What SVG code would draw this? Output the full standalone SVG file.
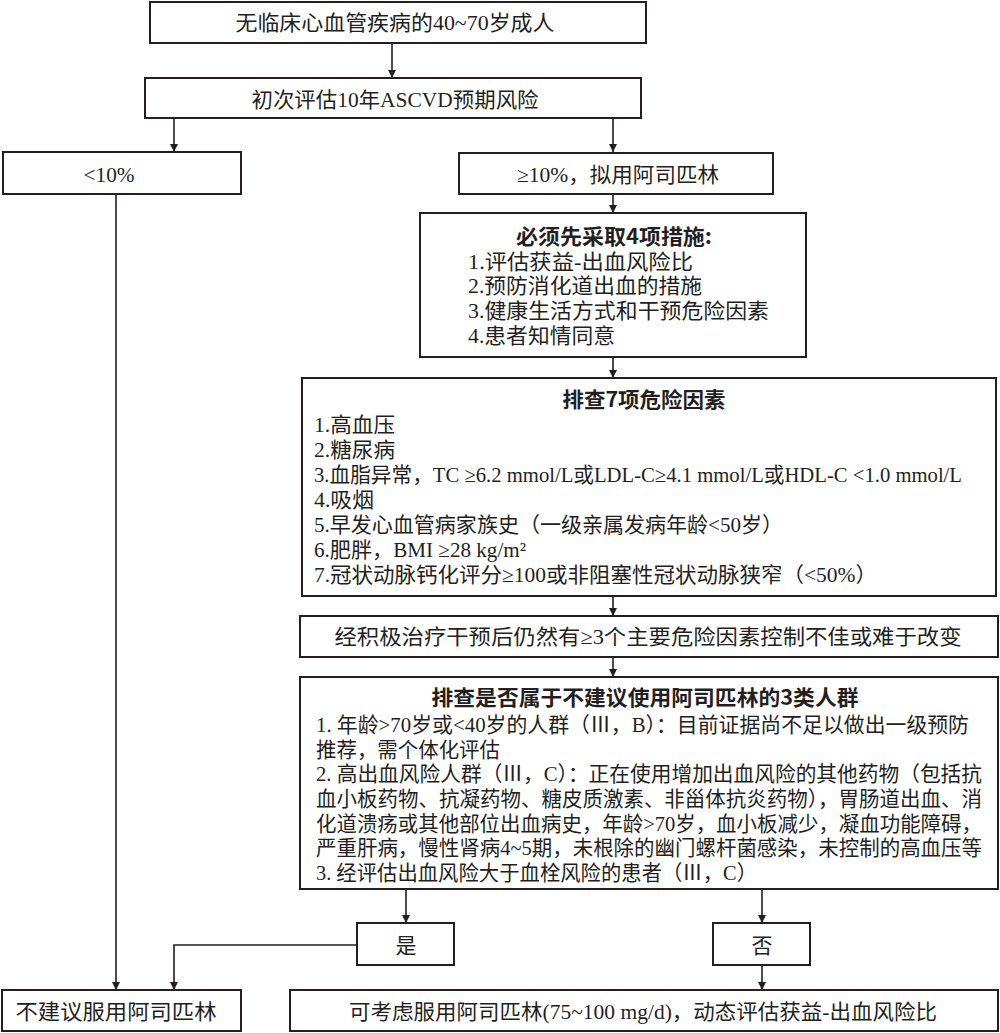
<svg xmlns="http://www.w3.org/2000/svg" width="1000" height="1033" viewBox="0 0 1000 1033">
<defs>
<style>
.box{fill:#fff;stroke:#231f20;stroke-width:2}
.t{font-family:'Liberation Serif','Noto Sans CJK SC',serif;font-size:21px;fill:#231f20}
.c{text-anchor:middle}
.b{font-family:'Noto Sans CJK SC','Liberation Sans',sans-serif;font-weight:bold;font-size:21px;fill:#231f20;text-anchor:middle}
.ln{fill:none;stroke:#231f20;stroke-width:1.6}
</style>
<marker id="ah" viewBox="0 0 10 10" refX="10" refY="5" markerWidth="8" markerHeight="8" markerUnits="userSpaceOnUse" orient="auto">
<path d="M0,0 L10,5 L0,10 z" fill="#231f20"/>
</marker>
</defs>
<rect width="1000" height="1033" fill="#fff"/>

<g id="connectors">
<line class="ln" x1="392" y1="43" x2="392" y2="78" marker-end="url(#ah)"/>
<line class="ln" x1="174" y1="118" x2="174" y2="152" marker-end="url(#ah)"/>
<line class="ln" x1="613" y1="118" x2="613" y2="152" marker-end="url(#ah)"/>
<line class="ln" x1="613" y1="194" x2="613" y2="213" marker-end="url(#ah)"/>
<line class="ln" x1="613" y1="357" x2="613" y2="378" marker-end="url(#ah)"/>
<line class="ln" x1="613" y1="597" x2="613" y2="616" marker-end="url(#ah)"/>
<line class="ln" x1="613" y1="657" x2="613" y2="677" marker-end="url(#ah)"/>
<line class="ln" x1="116" y1="194" x2="116" y2="990" marker-end="url(#ah)"/>
<line class="ln" x1="406" y1="889" x2="406" y2="923" marker-end="url(#ah)"/>
<line class="ln" x1="762" y1="889" x2="762" y2="923" marker-end="url(#ah)"/>
<polyline class="ln" points="357,945 174,945 174,990" marker-end="url(#ah)"/>
<line class="ln" x1="762" y1="965" x2="762" y2="990" marker-end="url(#ah)"/>
</g>

<g id="n1">
<rect class="box" x="150" y="2" width="496" height="41"/>
<text class="t c" x="395" y="30" textLength="319" lengthAdjust="spacingAndGlyphs">无临床心血管疾病的40~70岁成人</text>
</g>
<g id="n2">
<rect class="box" x="145" y="78" width="496" height="40"/>
<text class="t c" x="395" y="107" textLength="287" lengthAdjust="spacingAndGlyphs">初次评估10年ASCVD预期风险</text>
</g>
<g id="n3">
<rect class="box" x="3" y="152" width="238" height="42"/>
<text class="t c" x="109" y="182" textLength="51" lengthAdjust="spacingAndGlyphs">&lt;10%</text>
</g>
<g id="n4">
<rect class="box" x="459" y="153" width="314" height="41"/>
<text class="t c" x="618" y="182" textLength="202" lengthAdjust="spacingAndGlyphs">≥10%，拟用阿司匹林</text>
</g>
<g id="n5">
<rect class="box" x="420" y="213" width="386" height="144"/>
<text class="b" x="614" y="244" textLength="196" lengthAdjust="spacingAndGlyphs">必须先采取4项措施:</text>
<text class="t" x="468" y="269" textLength="225" lengthAdjust="spacingAndGlyphs">1.评估获益-出血风险比</text>
<text class="t" x="468" y="293" textLength="234" lengthAdjust="spacingAndGlyphs">2.预防消化道出血的措施</text>
<text class="t" x="468" y="318" textLength="301" lengthAdjust="spacingAndGlyphs">3.健康生活方式和干预危险因素</text>
<text class="t" x="468" y="343" textLength="147" lengthAdjust="spacingAndGlyphs">4.患者知情同意</text>
</g>
<g id="n6">
<rect class="box" x="302" y="378" width="694" height="218"/>
<text class="b" x="644" y="407" textLength="163" lengthAdjust="spacingAndGlyphs">排查7项危险因素</text>
<text class="t" x="314" y="432" textLength="81" lengthAdjust="spacingAndGlyphs">1.高血压</text>
<text class="t" x="314" y="457" textLength="81" lengthAdjust="spacingAndGlyphs">2.糖尿病</text>
<text class="t" x="314" y="482" textLength="648" lengthAdjust="spacingAndGlyphs">3.血脂异常，TC ≥6.2 mmol/L或LDL-C≥4.1 mmol/L或HDL-C &lt;1.0 mmol/L</text>
<text class="t" x="314" y="507" textLength="60" lengthAdjust="spacingAndGlyphs">4.吸烟</text>
<text class="t" x="314" y="532" textLength="469" lengthAdjust="spacingAndGlyphs">5.早发心血管病家族史（一级亲属发病年龄&lt;50岁）</text>
<text class="t" x="314" y="557" textLength="212" lengthAdjust="spacingAndGlyphs">6.肥胖，BMI ≥28 kg/m²</text>
<text class="t" x="314" y="582" textLength="563" lengthAdjust="spacingAndGlyphs">7.冠状动脉钙化评分≥100或非阻塞性冠状动脉狭窄（&lt;50%）</text>
</g>
<g id="n7">
<rect class="box" x="300" y="616" width="698" height="41"/>
<text class="t c" x="648" y="644" textLength="627" lengthAdjust="spacingAndGlyphs">经积极治疗干预后仍然有≥3个主要危险因素控制不佳或难于改变</text>
</g>
<g id="n8">
<rect class="box" x="300" y="677" width="698" height="212"/>
<text class="b" x="645" y="705" textLength="427" lengthAdjust="spacingAndGlyphs">排查是否属于不建议使用阿司匹林的3类人群</text>
<text class="t" x="316" y="732" textLength="653" lengthAdjust="spacingAndGlyphs">1. 年龄&gt;70岁或&lt;40岁的人群（Ⅲ，B）：目前证据尚不足以做出一级预防</text>
<text class="t" x="316" y="757" textLength="184" lengthAdjust="spacingAndGlyphs">推荐，需个体化评估</text>
<text class="t" x="316" y="781" textLength="666" lengthAdjust="spacingAndGlyphs">2. 高出血风险人群（Ⅲ，C）：正在使用增加出血风险的其他药物（包括抗</text>
<text class="t" x="316" y="806" textLength="666" lengthAdjust="spacingAndGlyphs">血小板药物、抗凝药物、糖皮质激素、非甾体抗炎药物），胃肠道出血、消</text>
<text class="t" x="316" y="831" textLength="666" lengthAdjust="spacingAndGlyphs">化道溃疡或其他部位出血病史，年龄&gt;70岁，血小板减少，凝血功能障碍，</text>
<text class="t" x="316" y="855" textLength="666" lengthAdjust="spacingAndGlyphs">严重肝病，慢性肾病4~5期，未根除的幽门螺杆菌感染，未控制的高血压等</text>
<text class="t" x="316" y="880" textLength="441" lengthAdjust="spacingAndGlyphs">3. 经评估出血风险大于血栓风险的患者（Ⅲ，C）</text>
</g>
<g id="n9">
<rect class="box" x="357" y="923" width="97" height="42"/>
<text class="t c" x="406" y="953">是</text>
</g>
<g id="n10">
<rect class="box" x="713" y="923" width="97" height="42"/>
<text class="t c" x="762" y="953">否</text>
</g>
<g id="n11">
<rect class="box" x="2" y="990" width="239" height="41"/>
<text class="t c" x="116" y="1019" textLength="201" lengthAdjust="spacingAndGlyphs">不建议服用阿司匹林</text>
</g>
<g id="n12">
<rect class="box" x="290" y="990" width="708" height="41"/>
<text class="t c" x="643" y="1019" textLength="588" lengthAdjust="spacingAndGlyphs">可考虑服用阿司匹林(75~100 mg/d)，动态评估获益-出血风险比</text>
</g>
</svg>
